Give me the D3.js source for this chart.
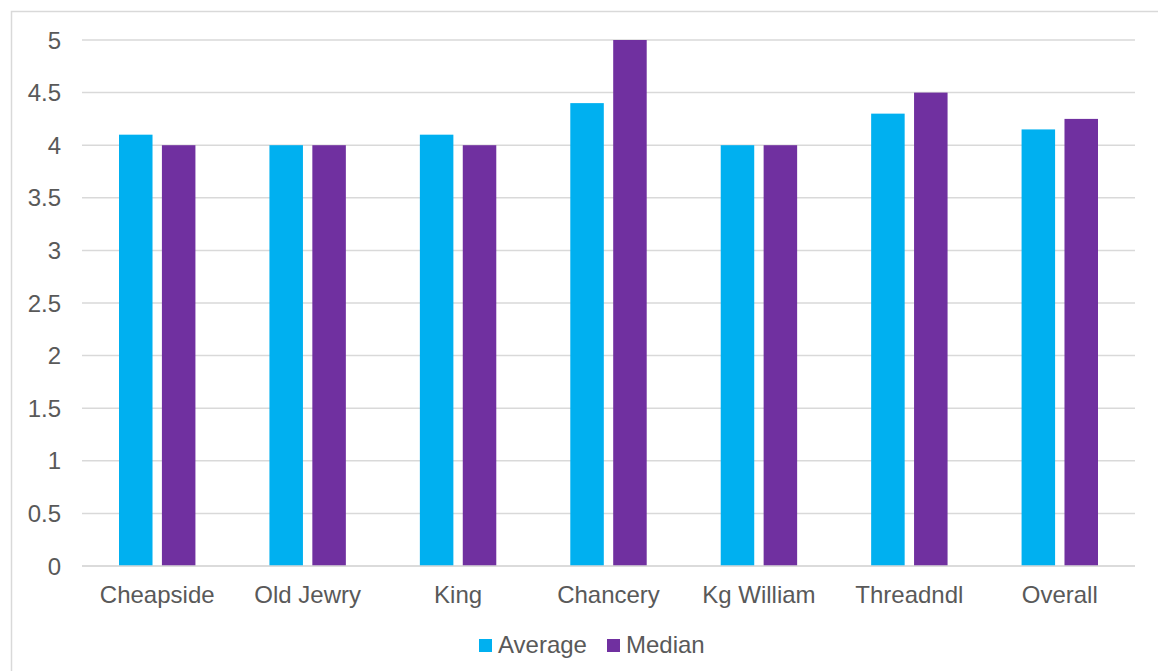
<!DOCTYPE html>
<html>
<head>
<meta charset="utf-8">
<script src="https://cdn.jsdelivr.net/npm/d3@7"></script>
<style>
html,body{margin:0;padding:0;background:#fff;}
svg{display:block;}
text{font-family:"Liberation Sans",Arial,sans-serif;fill:#595959;}
</style>
</head>
<body>
<svg id="chart" width="1158" height="671"></svg>
<script>
const categories = ["Cheapside","Old Jewry","King","Chancery","Kg William","Threadndl","Overall"];
const seriesNames = ["Average","Median"];
const averageValues = [4.1, 4.0, 4.1, 4.4, 4.0, 4.3, 4.15];
const medianValues = [4.0, 4.0, 4.0, 5.0, 4.0, 4.5, 4.25];
const yTicks = [0,0.5,1,1.5,2,2.5,3,3.5,4,4.5,5];
const colors = ["#00B0F0","#7030A0"];

(function(){
const svg = d3.select("#chart");
const W = 1158, H = 671;
const mLeft = 82, mRight = 1135, mTop = 40, mBottom = 566;

// outer border
svg.append("rect").attr("x",11.5).attr("y",11.5).attr("width",W+20).attr("height",H+20)
  .attr("fill","none").attr("stroke","#d9d9d9").attr("stroke-width",1.5);

const x0 = d3.scaleBand().domain(categories).range([mLeft,mRight]).paddingInner(0).paddingOuter(0);
const groupW = x0.bandwidth()*0.508;
const x1 = d3.scaleBand().domain(seriesNames).range([0,groupW]).paddingInner(0.219).paddingOuter(0);
const y = d3.scaleLinear().domain([0,5]).range([mBottom,mTop]);

// gridlines
svg.append("g").selectAll("line").data(yTicks).join("line")
  .attr("x1",mLeft).attr("x2",mRight)
  .attr("y1",d=>y(d)).attr("y2",d=>y(d))
  .attr("stroke","#d9d9d9").attr("stroke-width",1.5);

// y labels
svg.append("g").selectAll("text").data(yTicks).join("text")
  .attr("x",61).attr("y",d=>y(d)+8.5)
  .attr("text-anchor","end").attr("font-size",24)
  .text(d=>String(d));

const data = categories.map((c,i)=>({cat:c, vals:[averageValues[i], medianValues[i]]}));

const groups = svg.append("g").selectAll("g").data(data).join("g")
  .attr("transform",d=>`translate(${x0(d.cat)+(x0.bandwidth()-groupW)/2},0)`);
groups.selectAll("rect").data(d=>d.vals.map((v,j)=>({s:seriesNames[j],v,j}))).join("rect")
  .attr("x",d=>x1(d.s)).attr("width",x1.bandwidth())
  .attr("y",d=>y(d.v)).attr("height",d=>y(0)-y(d.v))
  .attr("fill",d=>colors[d.j]);

// baseline
svg.append("line").attr("x1",mLeft).attr("x2",mRight).attr("y1",y(0)).attr("y2",y(0))
  .attr("stroke","#d9d9d9").attr("stroke-width",1.5);

// x labels
svg.append("g").selectAll("text").data(categories).join("text")
  .attr("x",d=>x0(d)+x0.bandwidth()/2).attr("y",603)
  .attr("text-anchor","middle").attr("font-size",24)
  .text(d=>d);

// legend
const legendItems = [{name:"Average",x:479},{name:"Median",x:607}];
const lg = svg.append("g").selectAll("g").data(legendItems).join("g");
lg.append("rect").attr("x",d=>d.x).attr("y",639).attr("width",13).attr("height",13)
  .attr("fill",(d,i)=>colors[i]);
lg.append("text").attr("x",d=>d.x+19).attr("y",653).attr("font-size",24).text(d=>d.name);
})();
</script>
</body>
</html>
